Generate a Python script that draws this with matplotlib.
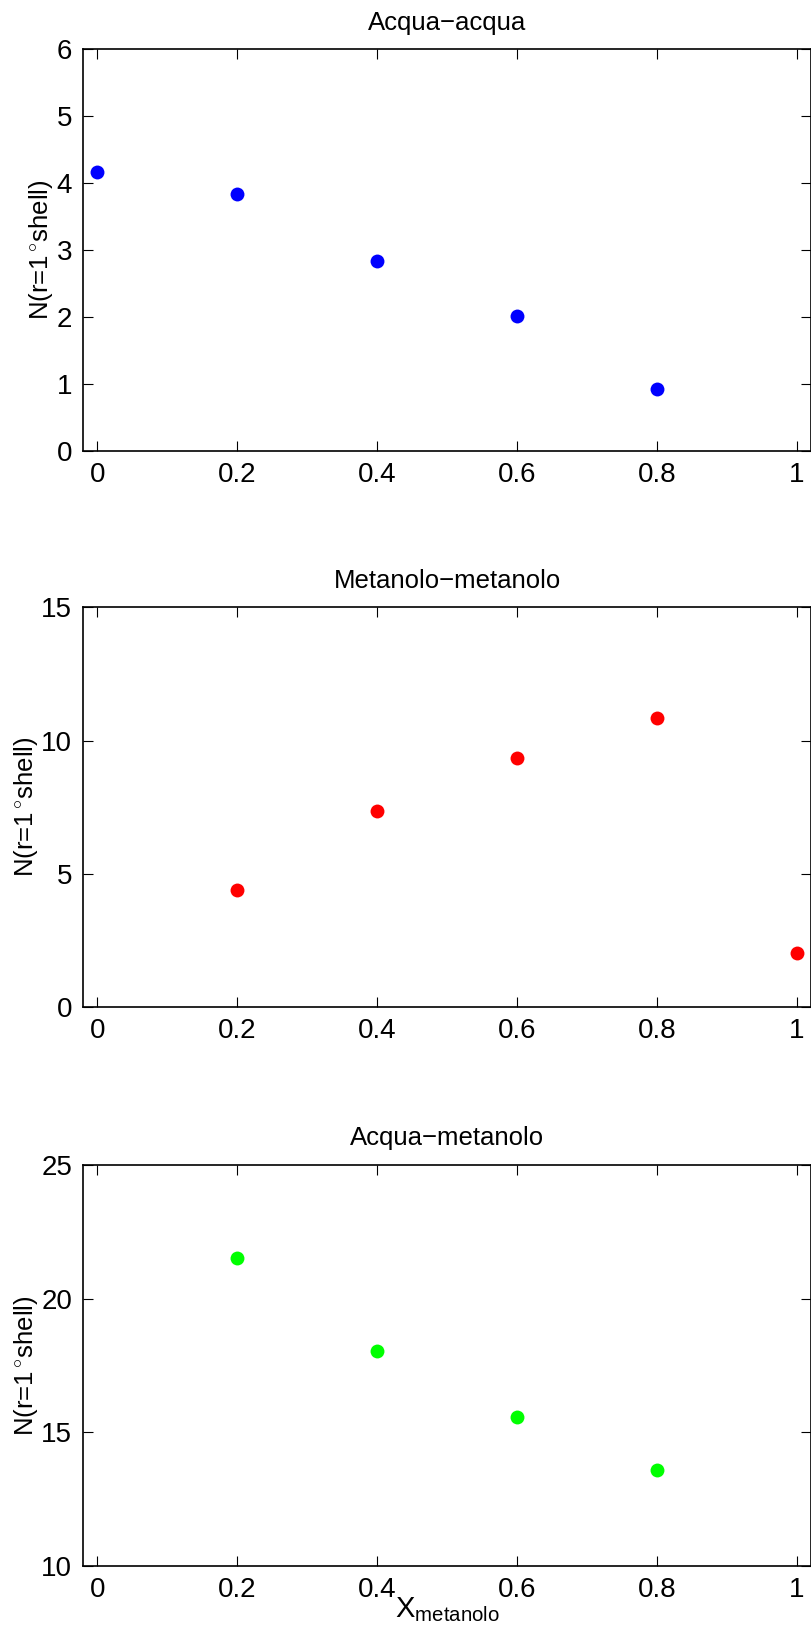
import matplotlib
matplotlib.use('Agg')
import matplotlib.pyplot as plt

# Frazione molare di metanolo
x_aa = [0.0, 0.2, 0.4, 0.6, 0.8]
n_aa = [4.17, 3.83, 2.84, 2.02, 0.92]

x_mm = [0.2, 0.4, 0.6, 0.8, 1.0]
n_mm = [4.38, 7.34, 9.36, 10.84, 2.04]

x_am = [0.2, 0.4, 0.6, 0.8]
n_am = [21.53, 18.05, 15.56, 13.59]

titles = ['Acqua\u2212acqua', 'Metanolo\u2212metanolo', 'Acqua\u2212metanolo']
ylims = [(0, 6), (0, 15), (10, 25)]
yticks = [[0, 1, 2, 3, 4, 5, 6], [0, 5, 10, 15], [10, 15, 20, 25]]
xticks = [0, 0.2, 0.4, 0.6, 0.8, 1]
xticklabels = ['0', '0.2', '0.4', '0.6', '0.8', '1']
colors = ['#0000ff', '#ff0000', '#00ff00']

plt.rcParams['font.family'] = ['Liberation Sans', 'DejaVu Sans']
plt.rcParams['mathtext.fontset'] = 'custom'
plt.rcParams['mathtext.rm'] = 'Liberation Sans'
plt.rcParams['mathtext.it'] = 'Liberation Sans'

fig = plt.figure(figsize=(8.11, 16.37), dpi=100)
positions = [
    [0.1025, 0.7245, 0.8975, 0.2455],
    [0.1025, 0.3849, 0.8975, 0.2440],
    [0.1025, 0.0434, 0.8975, 0.2450],
]
data = [(x_aa, n_aa), (x_mm, n_mm), (x_am, n_am)]

for i, (xs, ys) in enumerate(data):
    ax = fig.add_axes(positions[i])
    ax.plot(xs, ys, 'o', color=colors[i], markersize=10, markeredgewidth=0)
    ax.set_xlim(-0.02, 1.02)
    ax.set_ylim(*ylims[i])
    ax.set_xticks(xticks)
    ax.set_xticklabels(xticklabels)
    ax.set_yticks(yticks[i])
    ax.tick_params(direction='in', top=True, right=True, length=7,
                   width=0.8, labelsize=20, pad=8)
    for sp in ax.spines.values():
        sp.set_linewidth(1.2)
    ax.set_title(titles[i], fontsize=18.5, pad=14)
    ax.set_ylabel('N(r=1$\\,^{\\circ}$shell)', fontsize=18.5, labelpad=1)

ax.set_xlabel('X$_{\\mathrm{metanolo}}$', fontsize=21, labelpad=-6)

fig.savefig('out.png', dpi=100)
